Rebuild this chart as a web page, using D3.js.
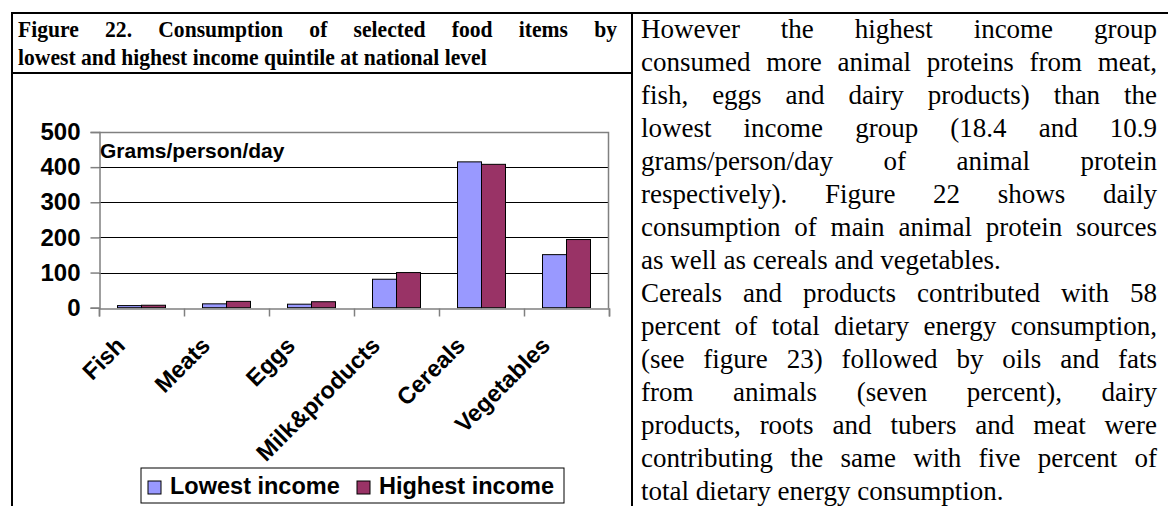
<!DOCTYPE html>
<html>
<head>
<meta charset="utf-8">
<script src="https://cdn.jsdelivr.net/npm/d3@7"></script>
<style>
  html, body { margin: 0; padding: 0; background: #fff; }
  svg { display: block; }
</style>
</head>
<body>
<div id="chart"></div>
<script>
// chart data
const categories = ["Fish", "Meats", "Eggs", "Milk&products", "Cereals", "Vegetables"];
const seriesNames = ["Lowest income", "Highest income"];
const lowestIncome = [6, 11, 10, 81, 415, 151];
const highestIncome = [7, 18, 17, 100, 408, 194];
const yTicks = [0, 100, 200, 300, 400, 500];
const seriesColors = ["#9999ff", "#993366"];

// surrounding document text
const titleLines = [
    "Figure 22. Consumption of selected food items by",
    "lowest and highest income quintile at national level"
];
const bodyLines = [
    "However the highest income group",
    "consumed more animal proteins from meat,",
    "fish, eggs and dairy products) than the",
    "lowest income group (18.4 and 10.9",
    "grams/person/day of animal protein",
    "respectively). Figure 22 shows daily",
    "consumption of main animal protein sources",
    "as well as cereals and vegetables.",
    "Cereals and products contributed with 58",
    "percent of total dietary energy consumption,",
    "(see figure 23) followed by oils and fats",
    "from animals (seven percent), dairy",
    "products, roots and tubers and meat were",
    "contributing the same with five percent of",
    "total dietary energy consumption."
];
const paragraphEnds = [7, 14];

const width = 1168;
const height = 506;
const sans = '"Liberation Sans", Arial, sans-serif';
const serif = '"Liberation Serif", "Times New Roman", serif';

const svg = d3.select('#chart').append('svg')
    .attr('width', width)
    .attr('height', height);

svg.append('rect').attr('width', width).attr('height', height).attr('fill', '#fff');

// spread words so a line fills the given width
function justify(sel, w) {
    sel.each(function() {
        const gaps = this.textContent.split(' ').length - 1;
        const natural = this.getComputedTextLength();
        if (gaps > 0 && natural < w) {
            d3.select(this).style('word-spacing', ((w - natural) / gaps) + 'px');
        }
    });
}

// table rules
const rules = svg.append('g').attr('stroke', '#000').attr('stroke-width', 2);
rules.append('line').attr('x1', 11).attr('y1', 13).attr('x2', width).attr('y2', 13);
rules.append('line').attr('x1', 12).attr('y1', 12).attr('x2', 12).attr('y2', height);
rules.append('line').attr('x1', 632).attr('y1', 12).attr('x2', 632).attr('y2', height);
rules.append('line').attr('x1', 12).attr('y1', 73).attr('x2', 632).attr('y2', 73);

// caption (slightly condensed bold serif)
const title = svg.append('g')
    .attr('transform', 'translate(18,0) scale(0.92,1)')
    .style('font-family', serif)
    .style('font-weight', 'bold')
    .style('font-size', '23.5px')
    .attr('fill', '#000');

title.selectAll('text')
    .data(titleLines)
    .join('text')
    .attr('x', 0)
    .attr('y', (d, i) => 37 + i * 28)
    .text(d => d);

justify(title.select('text'), 599 / 0.92);

// body paragraph on the right
const body = svg.append('g')
    .style('font-family', serif)
    .style('font-size', '27px')
    .attr('fill', '#000');

body.selectAll('text')
    .data(bodyLines)
    .join('text')
    .attr('x', 641)
    .attr('y', (d, i) => 38 + i * 33)
    .text(d => d);

justify(body.selectAll('text').filter((d, i) => !paragraphEnds.includes(i)), 516);

// chart
const x0 = d3.scaleBand().domain(categories).range([99, 609]);
const x1 = d3.scaleBand().domain(seriesNames).range([0, 48]);
const groupOffset = (x0.bandwidth() - x1.range()[1]) / 2;
const y = d3.scaleLinear().domain([0, 500]).range([307.7, 132]);
const xb = d3.scaleLinear().domain([0, categories.length]).range(x0.range());

const chart = svg.append('g');

// gridlines
chart.append('g')
    .selectAll('line')
    .data(yTicks.filter(t => t > 0 && t < 500))
    .join('line')
    .attr('x1', 99).attr('x2', 609)
    .attr('y1', d => Math.round(y(d)) + 0.5)
    .attr('y2', d => Math.round(y(d)) + 0.5)
    .attr('stroke', '#000')
    .attr('stroke-width', 1);

// plot area border (top and right)
chart.append('path')
    .attr('d', `M99,${Math.round(y(500)) + 0.5}H608.5V${Math.round(y(0)) + 0.5}`)
    .attr('fill', 'none')
    .attr('stroke', '#808080')
    .attr('stroke-width', 1.5);

// bars
const groups = chart.append('g')
    .selectAll('g')
    .data(categories)
    .join('g')
    .attr('transform', d => `translate(${x0(d) + groupOffset},0)`);

groups.selectAll('rect')
    .data((d, i) => [lowestIncome[i], highestIncome[i]].map((v, s) => ({ v, s })))
    .join('rect')
    .attr('x', d => x1(seriesNames[d.s]))
    .attr('y', d => y(d.v))
    .attr('width', x1.bandwidth())
    .attr('height', d => y(0) - y(d.v))
    .attr('fill', d => seriesColors[d.s])
    .attr('stroke', '#000')
    .attr('stroke-width', 1);

// y axis
const yAxis = chart.append('g')
    .attr('transform', 'translate(99.5,0)')
    .call(d3.axisLeft(y).tickValues(yTicks).tickSize(9).tickPadding(10));

yAxis.select('.domain').attr('stroke', '#808080').attr('stroke-width', 1.5);
yAxis.selectAll('.tick line').attr('stroke', '#808080').attr('stroke-width', 1.5);
yAxis.selectAll('.tick text')
    .style('font-family', sans)
    .style('font-weight', 'bold')
    .style('font-size', '24px')
    .attr('fill', '#000');

// x axis with ticks between categories
const xAxis = chart.append('g')
    .attr('transform', `translate(0,${Math.round(y(0)) + 0.5})`)
    .call(d3.axisBottom(xb).ticks(categories.length).tickSize(8).tickFormat(''));

xAxis.select('.domain').attr('stroke', '#808080').attr('stroke-width', 1.5);
xAxis.selectAll('.tick line').attr('stroke', '#808080').attr('stroke-width', 1.5);

// category labels
chart.append('g')
    .selectAll('text')
    .data(categories)
    .join('text')
    .attr('transform', d => `translate(${x0(d) + x0.bandwidth() / 2 - 15},347) rotate(-45)`)
    .attr('text-anchor', 'end')
    .style('font-family', sans)
    .style('font-weight', 'bold')
    .style('font-size', '23.5px')
    .attr('fill', '#000')
    .text(d => d);

// unit label
chart.append('text')
    .attr('x', 100)
    .attr('y', 158)
    .style('font-family', sans)
    .style('font-weight', 'bold')
    .style('font-size', '21px')
    .attr('fill', '#000')
    .text('Grams/person/day');

// legend
const legend = svg.append('g').attr('transform', 'translate(141,468)');

legend.append('rect')
    .attr('width', 423)
    .attr('height', 35)
    .attr('fill', '#fff')
    .attr('stroke', '#000')
    .attr('stroke-width', 1);

const legendX = [7, 216];
const items = legend.selectAll('g.item')
    .data(seriesNames)
    .join('g')
    .attr('class', 'item')
    .attr('transform', (d, i) => `translate(${legendX[i]},13)`);

items.append('rect')
    .attr('width', 13)
    .attr('height', 13)
    .attr('fill', (d, i) => seriesColors[i])
    .attr('stroke', '#000')
    .attr('stroke-width', 1);

items.append('text')
    .attr('x', 22)
    .attr('y', 13)
    .style('font-family', sans)
    .style('font-weight', 'bold')
    .style('font-size', '23.5px')
    .attr('fill', '#000')
    .text(d => d);
</script>
</body>
</html>
